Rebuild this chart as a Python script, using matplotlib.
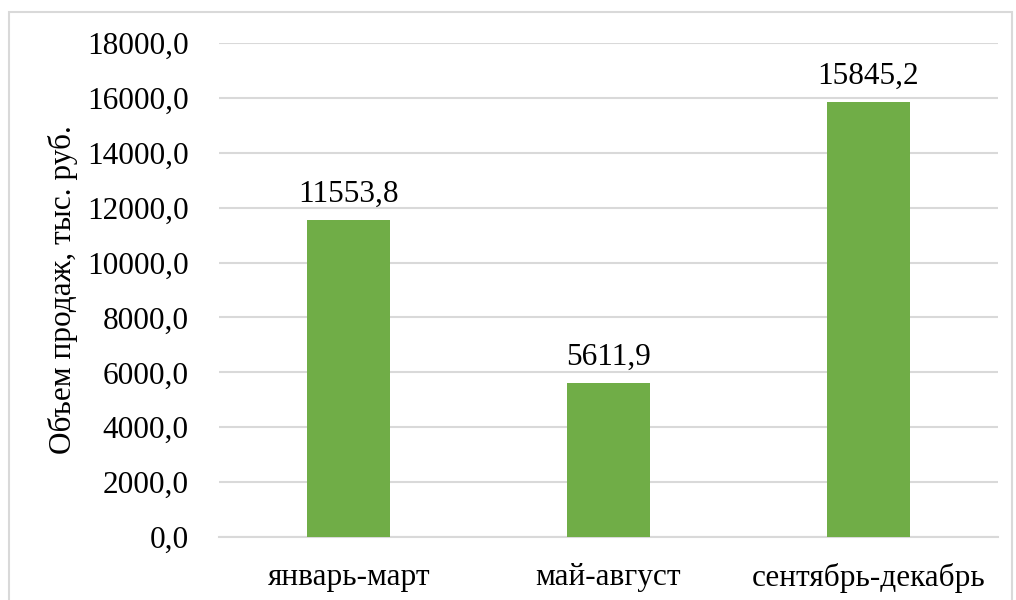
import matplotlib.pyplot as plt
from matplotlib.patches import Rectangle

FONT = ['Liberation Serif', 'DejaVu Serif']
plt.rcParams['font.family'] = FONT

periods = ['январь-март', 'май-август', 'сентябрь-декабрь']
sales = [11553.8, 5611.9, 15845.2]

fig = plt.figure(figsize=(10.16, 6), dpi=100)
ax = fig.add_axes([219 / 1016, 1 - 537 / 600, 779 / 1016, 494 / 600])

# light frame around the whole chart area
fig.patches.append(Rectangle((9 / 1016, -0.05), 1003 / 1016, 1.05 - 12 / 600,
                             transform=fig.transFigure, fill=False,
                             edgecolor='#d9d9d9', linewidth=1.5))

x = range(len(periods))
bars = ax.bar(x, sales, width=0.32, color='#70ad47', zorder=3)

for b, v in zip(bars, sales):
    ax.text(b.get_x() + b.get_width() / 2, v + 400, f'{v:.1f}'.replace('.', ','),
            ha='center', va='bottom', fontsize=22.5, family=FONT)

ax.set_xlim(-0.5, 2.5)
ax.set_ylim(0, 18000)
ax.set_yticks(range(0, 18001, 2000))
ax.set_yticklabels([f'{t},0' for t in range(0, 18001, 2000)], fontsize=22.5, family=FONT)
ax.set_xticks(list(x))
ax.set_xticklabels(periods, fontsize=22.5, family=FONT)
ax.tick_params(length=0)
ax.tick_params(axis='y', pad=22)
ax.tick_params(axis='x', pad=19)

ax.grid(axis='y', color='#d9d9d9', linewidth=1.5, zorder=0)
for s in ['top', 'right', 'left']:
    ax.spines[s].set_visible(False)
ax.spines['bottom'].set_color('#d9d9d9')
ax.spines['bottom'].set_linewidth(1.5)

ax.set_ylabel('Объем продаж, тыс. руб.', fontsize=22.5, family=FONT)
ax.yaxis.set_label_coords((78 - 219) / 779, 0.5)

fig.savefig('out.png', dpi=100)
